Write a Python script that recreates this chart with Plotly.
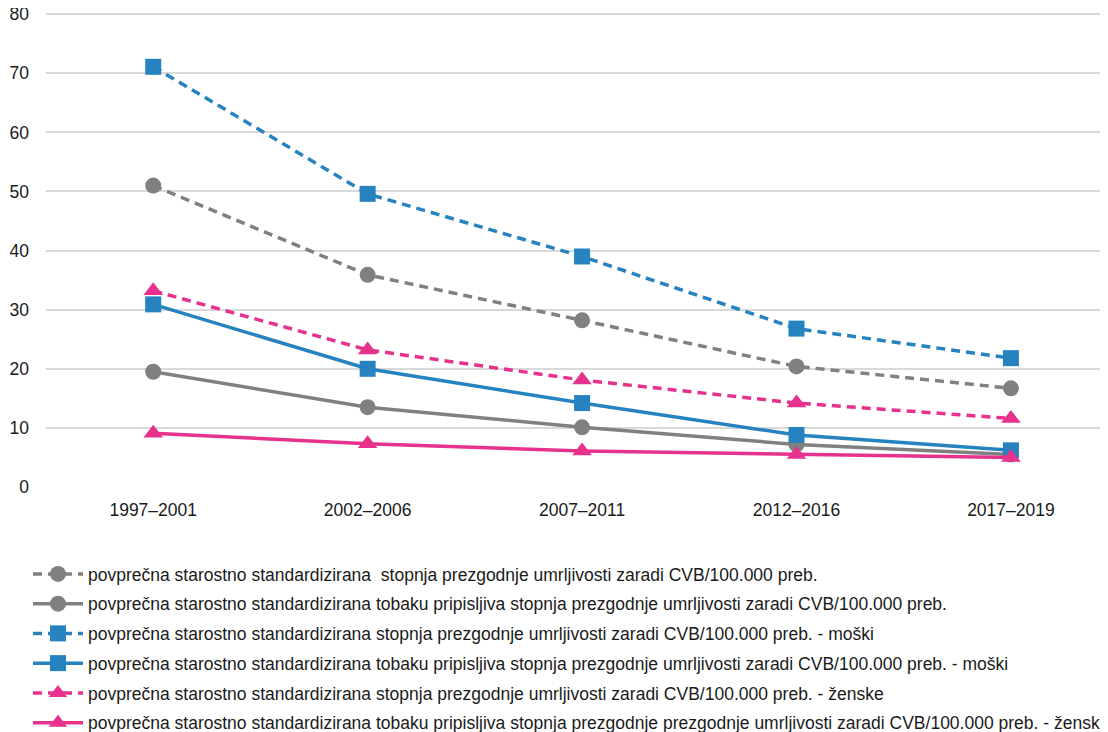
import plotly.graph_objects as go

categories = ["1997–2001", "2002–2006", "2007–2011", "2012–2016", "2017–2019"]

total_rate = [51.0, 35.9, 28.2, 20.4, 16.7]
total_tobacco = [19.5, 13.5, 10.1, 7.2, 5.5]
male_rate = [71.1, 49.6, 39.0, 26.8, 21.8]
male_tobacco = [30.9, 20.0, 14.2, 8.8, 6.2]
female_rate = [33.2, 23.2, 18.1, 14.2, 11.6]
female_tobacco = [9.1, 7.3, 6.1, 5.5, 5.0]

names = [
    "povprečna starostno standardizirana\u00a0 stopnja prezgodnje umrljivosti zaradi CVB/100.000 preb.",
    "povprečna starostno standardizirana tobaku pripisljiva stopnja prezgodnje umrljivosti zaradi CVB/100.000 preb.",
    "povprečna starostno standardizirana stopnja prezgodnje umrljivosti zaradi CVB/100.000 preb. - moški",
    "povprečna starostno standardizirana tobaku pripisljiva stopnja prezgodnje umrljivosti zaradi CVB/100.000 preb. - moški",
    "povprečna starostno standardizirana stopnja prezgodnje umrljivosti zaradi CVB/100.000 preb. - ženske",
    "povprečna starostno standardizirana tobaku pripisljiva stopnja prezgodnje prezgodnje umrljivosti zaradi CVB/100.000 preb. - ženske",
]

GRAY = "#808080"
BLUE = "#2683C0"
PINK = "#E6318D"
FONT = "Liberation Sans, Arial, sans-serif"
FS = 17.5

series = [
    (total_rate, GRAY, "9px,6px", "circle"),
    (total_tobacco, GRAY, "solid", "circle"),
    (male_rate, BLUE, "9px,6px", "square"),
    (male_tobacco, BLUE, "solid", "square"),
    (female_rate, PINK, "9px,6px", "triangle-up"),
    (female_tobacco, PINK, "solid", "triangle-up"),
]

fig = go.Figure()
for i, ((vals, col, dash, sym), name) in enumerate(zip(series, names)):
    fig.add_trace(go.Scatter(
        x=categories, y=vals, name=name, mode="lines+markers",
        line=dict(color=col, width=3.5, dash=dash),
        marker=dict(color=col, symbol=sym, size=16 if sym != "triangle-up" else 17),
        legendgroup=f"g{i}",
    ))

fig.update_layout(
    width=1108, height=732,
    margin=dict(l=38, r=0, t=5, b=253, autoexpand=False),
    paper_bgcolor="white", plot_bgcolor="white",
    font=dict(family=FONT, size=FS, color="#1a1a1a"),
    showlegend=True,
    legend=dict(
        xref="container", yref="container",
        x=20 / 1108, y=1 - 548 / 732, xanchor="left", yanchor="top",
        traceorder="grouped", tracegroupgap=4, itemwidth=50,
        font=dict(family=FONT, size=FS, color="#1a1a1a"),
        bgcolor="rgba(0,0,0,0)",
    ),
    xaxis=dict(
        type="category", range=[-0.5, 4.49],
        showgrid=False, showline=False, ticks="", tickangle=0,
        tickfont=dict(family=FONT, size=FS), ticklabelstandoff=10,
    ),
    yaxis=dict(
        range=[0, 80.2], dtick=10, showgrid=True, gridcolor="#d9d9d9", gridwidth=2,
        zeroline=False, showline=False, ticks="", tickfont=dict(family=FONT, size=FS),
        ticklabelstandoff=16, ticklabeloverflow="allow",
    ),
)

fig.write_html("out.html")
